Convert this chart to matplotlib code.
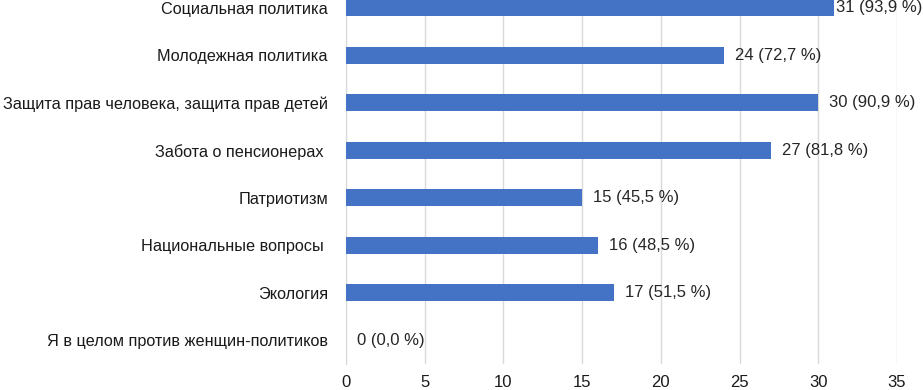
import matplotlib.pyplot as plt

plt.rcParams['font.family'] = ['Liberation Sans', 'DejaVu Sans']

categories = [
    "Социальная политика",
    "Молодежная политика",
    "Защита прав человека, защита прав детей",
    "Забота о пенсионерах ",
    "Патриотизм",
    "Национальные вопросы ",
    "Экология",
    "Я в целом против женщин-политиков",
]
counts = [31, 24, 30, 27, 15, 16, 17, 0]
percents = ["93,9", "72,7", "90,9", "81,8", "45,5", "48,5", "51,5", "0,0"]
xticks = [0, 5, 10, 15, 20, 25, 30, 35]

fig = plt.figure(figsize=(9.23, 3.9), dpi=100)
ax = fig.add_axes([0.3748, 0.067, 0.597, 0.974])

pos = list(range(len(categories)))
ax.barh(pos, counts, height=0.36, color='#4472C4', zorder=3)
for p, c, pc in zip(pos, counts, percents):
    # the top label sits a bit closer to its bar, as in the original
    off = 0.15 if p == 0 else 0.7
    ax.text(c + off, p, f"{c} ({pc} %)", va='center', ha='left', fontsize=12, color='#262626')

ax.set_yticks(pos)
ax.set_yticklabels(categories, fontsize=11.7, color='#1a1a1a')
ax.set_ylim(len(categories) - 0.5, -0.5)
ax.set_xlim(0, 35)
ax.set_xticks(xticks)
ax.tick_params(axis='x', labelsize=12, length=0, pad=8, labelcolor='#1a1a1a')
ax.tick_params(axis='y', length=0, pad=13)
ax.grid(axis='x', color='#d9d9d9', linewidth=1, zorder=0)
for s in ['top', 'right', 'bottom']:
    ax.spines[s].set_visible(False)
ax.spines['left'].set_color('#d9d9d9')

fig.savefig('out.png', dpi=100)
